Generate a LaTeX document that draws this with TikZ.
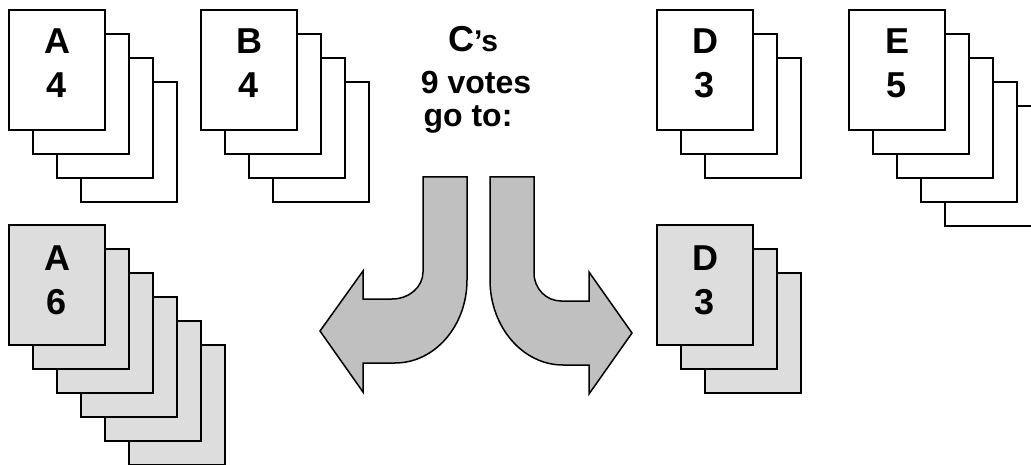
\documentclass[tikz,border=0pt]{standalone}
\usepackage{fontspec}
\setmainfont{Liberation Sans}
\definecolor{pagegray}{HTML}{DDDDDD}
\definecolor{arrowgray}{HTML}{C0C0C0}
\tikzset{
  page/.style={draw=black, line width=2pt, fill=white, rectangle, inner sep=0pt, outer sep=0pt,
    minimum width=96pt, minimum height=120pt, anchor=north west},
  graypage/.style={page, fill=pagegray},
  biglabel/.style={font=\fontsize{36}{40}\selectfont\bfseries, anchor=base, inner sep=0pt},
  ctext/.style={font=\fontsize{32}{36}\selectfont\bfseries, anchor=base, inner sep=0pt},
  bigarrow/.style={draw=black, line width=1.5pt, fill=arrowgray, line join=miter}
}
\begin{document}
\begin{tikzpicture}[x=1pt, y=-1pt]
\useasboundingbox (0,0) rectangle (1031,465);
\clip (0,0) rectangle (1031,465);
% top row stacks
\foreach \i in {3,2,1,0} \node[page] (TA\i) at (9+24*\i, 10+24*\i) {};
\foreach \i in {3,2,1,0} \node[page] (TB\i) at (201+24*\i, 10+24*\i) {};
\foreach \i in {2,1,0} \node[page] (TD\i) at (657+24*\i, 10+24*\i) {};
\foreach \i in {4,3,2,1,0} \node[page] (TE\i) at (849+24*\i, 10+24*\i) {};
% bottom row stacks
\foreach \i in {5,4,3,2,1,0} \node[graypage] (BA\i) at (9+24*\i, 225+24*\i) {};
\foreach \i in {2,1,0} \node[graypage] (BD\i) at (657+24*\i, 225+24*\i) {};
% labels
\node[biglabel] (TAl) at (57,54) {A};
\node[biglabel] (TAn) at (57,98) {4};
\node[biglabel] (TBl) at (249,54) {B};
\node[biglabel] (TBn) at (249,98) {4};
\node[biglabel] (TDl) at (705,54) {D};
\node[biglabel] (TDn) at (705,98) {3};
\node[biglabel] (TEl) at (897,54) {E};
\node[biglabel] (TEn) at (897,98) {5};
\node[biglabel] (BAl) at (57,270) {A};
\node[biglabel] (BAn) at (57,314) {6};
\node[biglabel] (BDl) at (705,270) {D};
\node[biglabel] (BDn) at (705,314) {3};
% centre text
\node[ctext] (c1) at (473,52) {{\fontsize{36}{40}\selectfont C}{\fontsize{30}{34}\selectfont ’s}};
\node[ctext] (c2) at (476,94) {9 votes};
\node[ctext] (c3) at (468,127) {go to:};
% bent arrows
\draw[bigarrow] (423,177) -- (467,177) -- (467,280)
  .. controls (467,325.8) and (434.8,363) .. (395,363)
  -- (363,363) -- (363,392) -- (320,331) -- (363,271) -- (363,299) -- (392,299)
  .. controls (409.1,299) and (423,286.9) .. (423,272) -- cycle;
\draw[bigarrow] (490,177) -- (534,177) -- (534,273)
  .. controls (534,288.5) and (546.1,301) .. (561,301)
  -- (589,301) -- (589,272) -- (632,333) -- (589,394) -- (589,365) -- (563,365)
  .. controls (522.7,365) and (490,326.9) .. (490,280) -- cycle;
\end{tikzpicture}
\end{document}
